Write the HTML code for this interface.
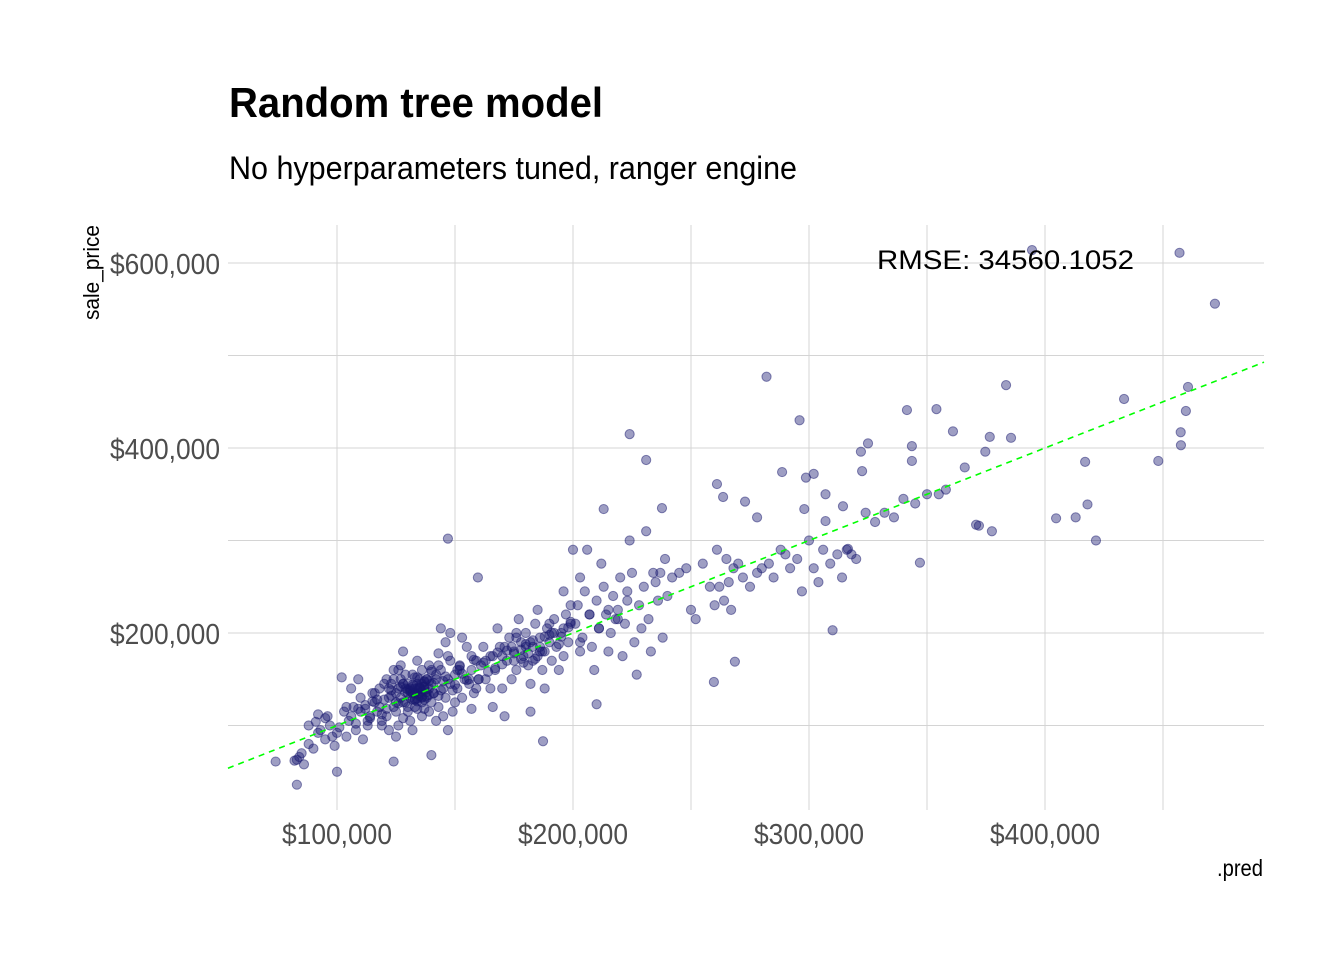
<!DOCTYPE html>
<html><head><meta charset="utf-8"><style>
html,body{margin:0;padding:0;background:#fff;}
svg{display:block;}
.t{font-family:"Liberation Sans",sans-serif;}
</style></head><body>
<svg id="chart" width="1344" height="960">
<text class="t" x="229" y="117" font-size="42" font-weight="bold" fill="#000" textLength="374" lengthAdjust="spacingAndGlyphs">Random tree model</text>
<text class="t" x="229" y="179" font-size="32" fill="#000" textLength="568" lengthAdjust="spacingAndGlyphs">No hyperparameters tuned, ranger engine</text>
<g id="grid"></g>
<g id="xticks"></g>
<g id="yticks"></g>
<g id="points"></g>
<g id="ref"></g>
<text x="877" y="269" font-family="Liberation Sans, sans-serif" font-size="27" fill="#000" textLength="257" lengthAdjust="spacingAndGlyphs">RMSE:  34560.1052</text>
<text class="t" x="1217" y="876" font-size="23" fill="#000" textLength="46" lengthAdjust="spacingAndGlyphs">.pred</text>
<text class="t" transform="translate(99,320) rotate(-90)" font-size="22" fill="#000" textLength="95" lengthAdjust="spacingAndGlyphs">sale_price</text>
</svg>
<script>
const xTicks=[100,200,300,400];
const yTicks=[200,400,600];
const xMinor=[150,250,350,450];
const yMinor=[100,300,500];
const predValues=[457,472,394.5,282,383.5,460.6,433.5,341.5,354,296,224,459.7,361,457.5,376.6,385.6,325,343.6,322,457.6,374.7,231,417,448,343.6,366,288.6,322.5,302,298.7,261,404.7,413,418,421.6,370.8,372,377.5,147,263.6,272.9,237.7,213,278,307,314.4,298,307,316.5,347,310,268.6,259.7,159.7,210,187.3,182,83,83,100,124,140,74,
82,85,88,90,92,95,97,86,91,99,84,93,96,
101,103,105,107,108,110,112,114,116,118,119,104,106,109,113,115,117,111,120,102,
121,122,123,124,125,126,127,128,129,130,131,132,133,134,135,136,137,138,139,140,121,124,126,128,130,132,134,136,138,140,122,125,127,129,131,133,135,137,139,123,125,128,130,133,136,139,127,131,134,137,140,125,132,128,
131,132,133,134,135,136,137,138,133,134,135,136,137,135,136,134,132,138,139,130,
141,142,143,144,145,146,147,148,149,150,151,152,153,154,155,156,157,158,159,160,143,146,150,153,157,142,148,145,159,151,144,147,
161,163,165,167,169,170,172,173,175,176,178,179,180,181,183,184,185,186,187,188,189,190,191,192,193,195,196,197,198,199,162,166,168,171,174,177,182,185,188,194,196,199,165,176,180,183,170,186,190,175,178,181,
201,202,204,205,207,208,210,211,213,214,216,217,219,220,222,223,225,226,228,230,232,234,236,238,239,203,206,209,212,215,218,221,224,227,229,231,233,235,237,240,200,203,
242,245,248,250,252,255,258,260,261,262,264,265,266,267,268,270,272,275,278,280,283,285,288,290,292,295,297,300,302,304,306,309,312,314,316,318,320,324,328,332,336,340,345,350,355,358,
112,114,117,119,121,123,126,129,132,135,138,141,144,147,150,153,156,108,110,115,118,122,127,130,134,137,140,143,146,149,152,155,158,162,166,170,174,178,182,186,190,194,198,164,168,172,176,180,184,188,192,196,128,131,133,136,139,142,126,129,134,137,141,145,120,124,143,148,152,157,106,109,113,116,119,100,104,95,98,88,92,160,163,167,171,175,179,183,187,191,195,199,203,207,211,215,219,223];
const salePrice=[611,556,614,477,468,466,453,441,442,430,415,440,418,417,412,411,405,402,396,403,396,387,385,386,386,379,374,375,372,368,361,324,325,339,300,317,316,310,302,347,342,335,334,325,350,337,334,321,291,276,203,169,147,260,123,83,115,63,36,50,61,68,61,
62,70,80,75,92,85,100,58,104,78,66,95,110,
98,115,105,120,95,130,118,110,125,140,105,88,140,150,100,135,115,85,128,152,
110,130,145,120,135,100,150,125,140,115,130,155,120,145,135,110,128,150,140,125,150,160,140,108,145,135,118,160,130,145,95,115,130,155,140,128,150,118,165,138,125,145,135,140,125,115,165,105,170,142,160,88,95,180,
138,142,135,140,132,145,138,136,128,134,142,130,148,141,137,126,144,150,133,139,
135,150,120,160,140,130,175,145,115,155,140,165,130,150,185,145,160,135,170,150,178,190,125,195,118,105,200,110,140,160,205,95,
165,150,175,160,185,140,170,195,180,160,190,175,200,165,185,210,175,195,160,180,205,190,170,215,185,200,175,220,190,230,185,120,205,110,150,215,145,225,140,160,245,210,140,200,185,170,175,185,210,170,182,178,
210,230,195,245,220,185,235,205,250,220,200,240,225,260,210,245,265,190,230,250,215,265,235,195,280,180,290,160,275,180,215,175,300,155,205,310,180,255,265,240,290,260,
260,265,270,225,215,275,250,230,290,250,235,280,255,225,270,275,260,250,265,270,275,260,290,285,270,280,245,300,270,255,290,275,285,260,290,285,280,330,320,330,325,345,340,350,350,355,
122,108,128,112,118,132,124,136,128,140,132,146,138,150,144,156,150,102,115,126,120,140,142,120,152,147,158,132,153,138,164,149,171,168,175,166,185,172,190,180,198,188,206,158,179,181,195,188,172,196,200,205,145,137,152,131,148,155,160,125,129,142,135,148,145,150,165,170,160,175,110,118,105,135,100,92,120,108,88,100,112,150,170,162,185,178,168,192,180,200,196,212,190,220,205,225,215,235];
const refLine=[53.8,492.8];

const X0=228,X1=1264,Y0=225,Y1=810;
const xs=v=>337+(v-100)*2.36;
const ys=v=>263+(600-v)*0.925;
const NS="http://www.w3.org/2000/svg";
function mk(t,a){const e=document.createElementNS(NS,t);for(const k in a)e.setAttribute(k,a[k]);return e;}
const grid=document.getElementById('grid');
xMinor.concat(xTicks).forEach(v=>{const l=mk('line',{x1:xs(v),x2:xs(v),y1:Y0,y2:Y1,stroke:'#d4d4d4','stroke-width':1});


grid.appendChild(l);});
yMinor.concat(yTicks).forEach(v=>{const l=mk('line',{x1:X0,x2:X1,y1:ys(v),y2:ys(v),stroke:'#d4d4d4','stroke-width':1});


grid.appendChild(l);});
const fmt=v=>'$'+(v*1000).toLocaleString('en-US');
xTicks.forEach(v=>{const t=mk('text',{x:xs(v)-55,y:844,'font-size':29,fill:'#4d4d4d',class:'t',textLength:110,lengthAdjust:'spacingAndGlyphs'});t.textContent=fmt(v);


document.getElementById('xticks').appendChild(t);});
yTicks.forEach(v=>{const t=mk('text',{x:110,y:ys(v)+11,'font-size':29,fill:'#4d4d4d',class:'t',textLength:110,lengthAdjust:'spacingAndGlyphs'});t.textContent=fmt(v);


document.getElementById('yticks').appendChild(t);});
const pg=document.getElementById('points');
predValues.forEach((p,i)=>{const c=mk('circle',{cx:xs(p),cy:ys(salePrice[i]),r:4.6,fill:'#191970','fill-opacity':0.42,stroke:'#191970','stroke-opacity':0.5,'stroke-width':1});


pg.appendChild(c);});
const ln=mk('line',{x1:xs(refLine[0]),y1:ys(refLine[0]),x2:xs(refLine[1]),y2:ys(refLine[1]),stroke:'#00ff00','stroke-width':1.6,'stroke-dasharray':'6 5'});


document.getElementById('ref').appendChild(ln);
</script>
</body></html>
